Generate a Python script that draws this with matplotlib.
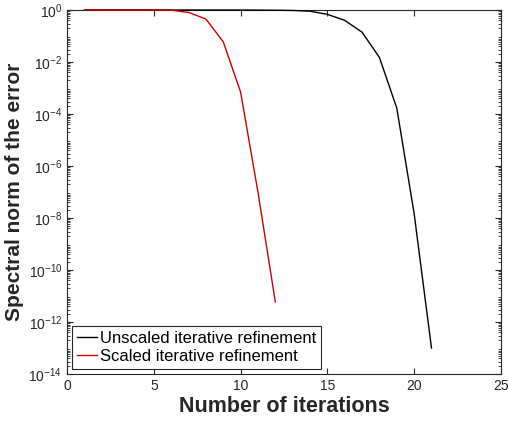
import matplotlib.pyplot as plt
import numpy as np

# データ
it_unscaled = list(range(1, 22))
err_unscaled = [1.0, 1.0, 1.0, 1.0, 1.0, 1.0, 1.0, 1.0, 1.0, 1.0,
                0.99, 0.98, 0.96, 0.9, 0.68, 0.4, 0.14, 0.015, 1.7e-4, 1.5e-8, 1e-13]
it_scaled = list(range(1, 13))
err_scaled = [1.0, 1.0, 1.0, 1.0, 1.0, 0.98, 0.81, 0.45, 0.06, 7e-4, 1e-7, 6e-12]

labels = ['Unscaled iterative refinement', 'Scaled iterative refinement']

plt.rcParams['font.family'] = ['Liberation Sans', 'DejaVu Sans']
plt.rcParams['mathtext.fontset'] = 'custom'
plt.rcParams['mathtext.rm'] = 'Liberation Sans'
plt.rcParams['mathtext.it'] = 'Liberation Sans'
axc = '#262626'

fig = plt.figure(figsize=(5.08, 4.22), dpi=100)
ax = fig.add_axes([0.132, 0.1137, 0.854, 0.8626])

ax.plot(it_unscaled, err_unscaled, color='k', lw=1.0, label=labels[0], clip_on=False, zorder=3)
ax.plot(it_scaled, err_scaled, color='#cc0000', lw=1.0, label=labels[1], clip_on=False, zorder=4)

ax.set_yscale('log')
ax.set_xlim(0, 25)
ax.set_ylim(1e-14, 1e0)
ax.set_xticks([0, 5, 10, 15, 20, 25])
ax.set_yticks([10.0**k for k in range(-14, 1, 2)])
ax.set_yticklabels([r'$\mathrm{10^{%d}}$' % k for k in range(-14, 1, 2)])
ax.yaxis.set_minor_locator(plt.LogLocator(base=10, subs=np.arange(2, 10), numticks=30))

ax.tick_params(which='both', direction='in', top=True, right=True,
               colors=axc, labelsize=10, labelcolor=axc)
ax.tick_params(which='major', length=4)
ax.tick_params(which='minor', length=2)
for s in ax.spines.values():
    s.set_color(axc)

ax.set_xlabel('Number of iterations', fontsize=15.5, fontweight='bold', color=axc, labelpad=2)
ax.set_ylabel('Spectral norm of the error', fontsize=15, fontweight='bold', color=axc, labelpad=3)

leg = ax.legend(loc='lower left', fontsize=12, handlelength=1.2, handletextpad=0.15,
                borderaxespad=0.3, fancybox=False, framealpha=1, borderpad=0.3,
                labelspacing=0.2)
leg.get_frame().set_edgecolor(axc)
leg.get_frame().set_linewidth(0.8)

fig.savefig('out.png', dpi=100)
